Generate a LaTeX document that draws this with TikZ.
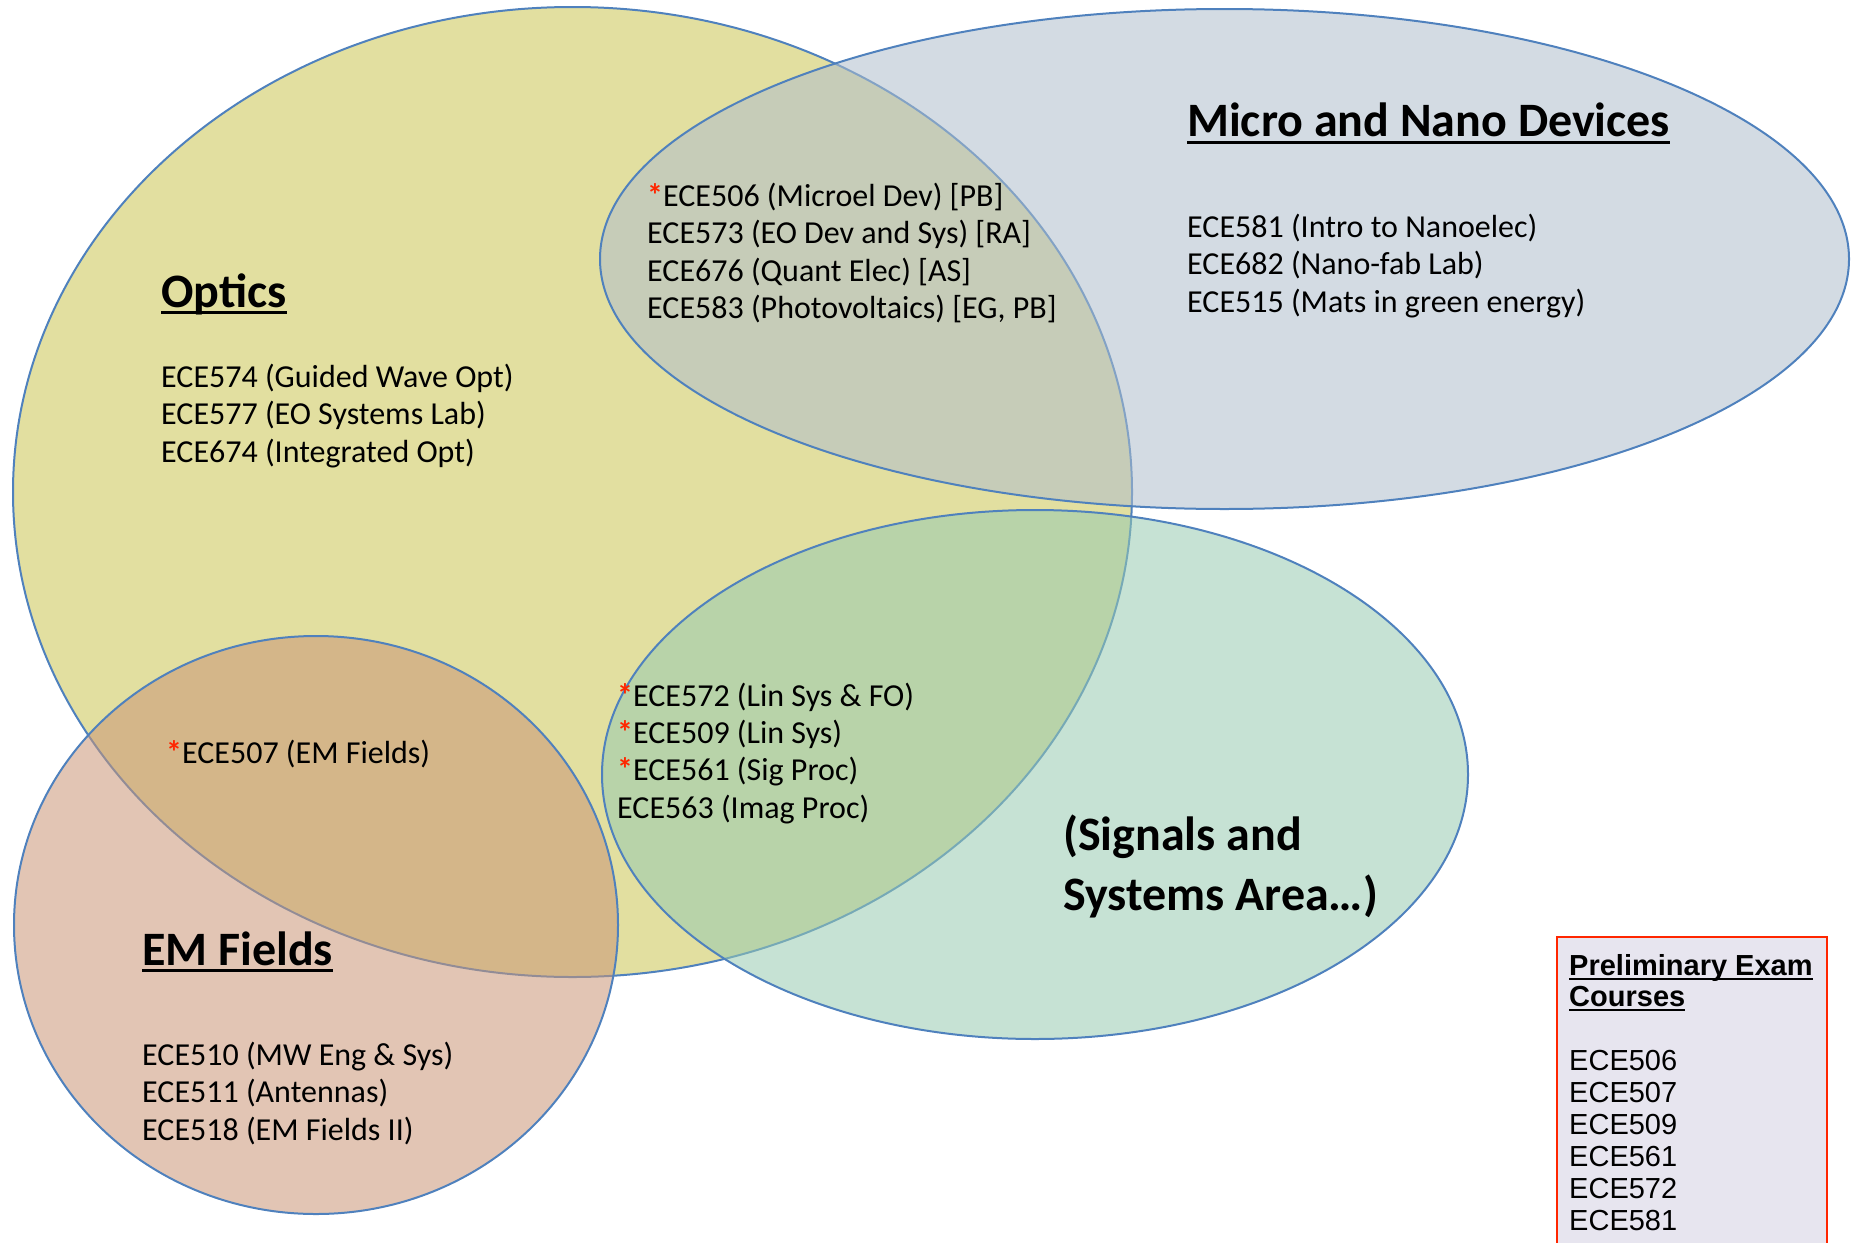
\documentclass[tikz,border=0pt]{standalone}
\usepackage{fontspec}
\setmainfont{Carlito}
\newfontfamily\arialfont{Liberation Sans}
\definecolor{optfill}{RGB}{226,223,160}
\definecolor{micfill}{RGB}{175,190,204}
\definecolor{sigfill}{RGB}{151,202,177}
\definecolor{emfill}{RGB}{202,150,119}
\definecolor{edgeblue}{RGB}{79,129,189}
\definecolor{starred}{RGB}{255,38,0}
\definecolor{prelimfill}{RGB}{231,229,239}
\tikzset{
  setedge/.style={draw=edgeblue, line width=2pt},
  body/.style={anchor=base west, inner sep=0pt, font=\fontsize{32pt}{37.5pt}\selectfont},
  heading/.style={anchor=base west, inner sep=0pt, font=\fontsize{48pt}{58pt}\selectfont\bfseries},
  pbody/.style={anchor=base west, inner sep=0pt, font=\arialfont\fontsize{29pt}{32pt}\selectfont},
  phead/.style={anchor=base west, inner sep=0pt, font=\arialfont\bfseries\fontsize{29pt}{32pt}\selectfont},
  uline/.style={line width=3pt, black},
}
\newcommand{\rst}{\textcolor{starred}{\bfseries*}}
\begin{document}
\begin{tikzpicture}[x=1pt, y=-1pt]
\useasboundingbox (0,0) rectangle (1857,1242);
\begin{scope}
\clip (0,0) rectangle (1857,1242);
% sets
\path[setedge, fill=optfill] (572.5,492) ellipse [x radius=559.5, y radius=485];
\path[setedge, fill=micfill, fill opacity=0.55] (1224.5,259) ellipse [x radius=624.5, y radius=250];
\path[setedge, fill=sigfill, fill opacity=0.55] (1035,774.5) ellipse [x radius=433, y radius=264.5];
\path[setedge, fill=emfill, fill opacity=0.55] (316,925) ellipse [x radius=302, y radius=289];
% prelim box
\fill[prelimfill] (1557,937) rectangle (1827,1260);
\draw[starred, line width=2pt] (1557,1260) -- (1557,937) -- (1827,937) -- (1827,1260);
\end{scope}

% Optics
\node[heading] (opth) at (161,307) {Optics};
\draw[uline] ([yshift=-5pt]opth.base west) -- ([yshift=-5pt]opth.base east);
\node[body] (opt1) at (161,387) {ECE574 (Guided Wave Opt)};
\node[body] (opt2) at (161,424.5) {ECE577 (EO Systems Lab)};
\node[body] (opt3) at (161,462) {ECE674 (Integrated Opt)};

% Micro and Nano
\node[heading] (mich) at (1187,136) {Micro and Nano Devices};
\draw[uline] ([yshift=-6pt]mich.base west) -- ([yshift=-6pt]mich.base east);
\node[body] (mic1) at (1187,237) {ECE581 (Intro to Nanoelec)};
\node[body] (mic2) at (1187,274.5) {ECE682 (Nano-fab Lab)};
\node[body] (mic3) at (1187,312) {ECE515 (Mats in green energy)};

% Optics & Micro overlap
\node[body] (om1) at (647,206) {\rst ECE506 (Microel Dev) [PB]};
\node[body] (om2) at (647,243.5) {ECE573 (EO Dev and Sys) [RA]};
\node[body] (om3) at (647,281) {ECE676 (Quant Elec) [AS]};
\node[body] (om4) at (647,318.5) {ECE583 (Photovoltaics) [EG, PB]};

% Optics & Signals overlap
\node[body] (os1) at (617,706) {\rst ECE572 (Lin Sys \& FO)};
\node[body] (os2) at (617,743) {\rst ECE509 (Lin Sys)};
\node[body] (os3) at (617,780) {\rst ECE561 (Sig Proc)};
\node[body] (os4) at (617,818) {ECE563 (Imag Proc)};

% Optics & EM overlap
\node[body] (oe1) at (166,763) {\rst ECE507 (EM Fields)};

% EM Fields
\node[heading] (emh) at (142,965) {EM Fields};
\draw[uline] ([yshift=-5pt]emh.base west) -- ([yshift=-5pt]emh.base east);
\node[body] (em1) at (142,1065) {ECE510 (MW Eng \& Sys)};
\node[body] (em2) at (142,1102.5) {ECE511 (Antennas)};
\node[body] (em3) at (142,1140) {ECE518 (EM Fields II)};

% Signals
\node[heading] (sig1) at (1063,850) {(Signals and};
\node[heading] (sig2) at (1063,910) {Systems Area…)};

% Prelim
\node[phead] (pr1) at (1569,975) {Preliminary Exam};
\draw[line width=2pt] ([yshift=-4pt]pr1.base west) -- ([yshift=-4pt]pr1.base east);
\node[phead] (pr2) at (1569,1006) {Courses};
\draw[line width=2pt] ([yshift=-4pt]pr2.base west) -- ([yshift=-4pt]pr2.base east);
\node[pbody] (p1) at (1569,1070) {ECE506};
\node[pbody] (p2) at (1569,1102) {ECE507};
\node[pbody] (p3) at (1569,1134) {ECE509};
\node[pbody] (p4) at (1569,1166) {ECE561};
\node[pbody] (p5) at (1569,1198) {ECE572};
\node[pbody] (p6) at (1569,1230) {ECE581};
\end{tikzpicture}
\end{document}
